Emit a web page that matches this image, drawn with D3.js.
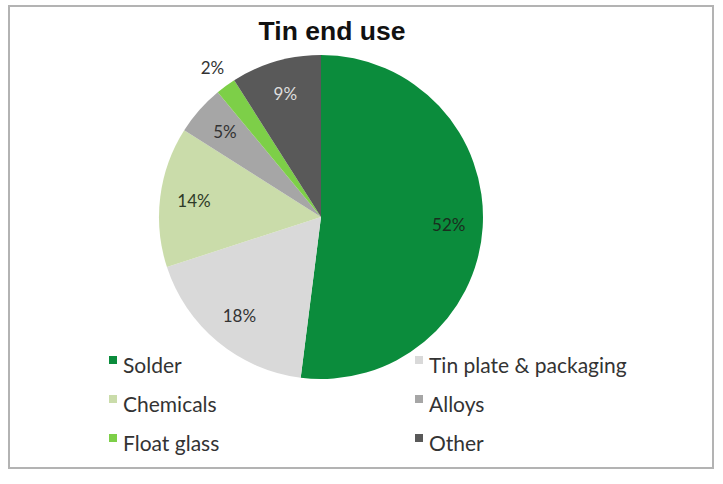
<!DOCTYPE html>
<html>
<head>
<meta charset="utf-8">
<script src="https://cdn.jsdelivr.net/npm/d3@7"></script>
<style>
  body { margin: 0; background: #fff; }
  svg { display: block; }
</style>
</head>
<body>
<div id="chart"></div>
<script>
const categories = ["Solder", "Tin plate & packaging", "Chemicals", "Alloys", "Float glass", "Other"]
const shares = [52, 18, 14, 5, 2, 9]
const sliceColors = ["#0b8c3c", "#d9d9d9", "#cadcaa", "#a6a6a6", "#7dcf48", "#595959"]
const labelColors = ["#1a2e1e", "#333", "#2e3a28", "#333", "#333", "#dedede"]

const WIDTH = 723
const HEIGHT = 484
const CENTER = {x: 321, y: 217}
const RADIUS = 162
const LEGEND = {cols: [109, 415], top: 373, rowStep: 39, box: 8, textGap: 14}

const svg = d3.select("#chart")
  .append("svg")
  .attr("width", WIDTH)
  .attr("height", HEIGHT)

svg.append("rect")
  .attr("width", WIDTH).attr("height", HEIGHT)
  .attr("fill", "#fff")

// outer frame
svg.append("rect")
  .attr("x", 9).attr("y", 6)
  .attr("width", 704).attr("height", 462)
  .attr("fill", "none")
  .attr("stroke", "#b3b3b3")
  .attr("stroke-width", 2)

svg.append("text")
  .text("Tin end use")
  .attr("x", 332)
  .attr("y", 40)
  .attr("text-anchor", "middle")
  .attr("font-family", "Liberation Sans, Arial, sans-serif")
  .attr("font-weight", "bold")
  .attr("font-size", "26.5px")
  .attr("fill", "#111")

const pieData = d3.pie().sort(null).value((d) => d)(shares)
const arc = d3.arc().innerRadius(0).outerRadius(RADIUS)
const labelArc = d3.arc().innerRadius(RADIUS * 0.79).outerRadius(RADIUS * 0.79)
const outerLabelArc = d3.arc().innerRadius(RADIUS * 1.14).outerRadius(RADIUS * 1.14)

const pieG = svg.append("g")
  .attr("transform", `translate(${CENTER.x},${CENTER.y})`)

pieG.selectAll("path.slice")
  .data(pieData).enter()
  .append("path")
  .classed("slice", true)
  .attr("d", arc)
  .attr("fill", (_, i) => sliceColors[i])

pieG.selectAll("text.pct")
  .data(pieData).enter()
  .append("text")
  .classed("pct", true)
  .text((d) => d.data + "%")
  .attr("transform", (d) => {
    // tiny slices get their label outside the pie
    const c = d.data < 3 ? outerLabelArc.centroid(d) : labelArc.centroid(d)
    return `translate(${c[0]},${c[1]})`
  })
  .attr("text-anchor", "middle")
  .attr("dy", "0.35em")
  .attr("font-family", "Lato, sans-serif")
  .attr("font-size", "17px")
  .attr("fill", (_, i) => labelColors[i])

// legend, two columns, filled row by row
const legend = svg.append("g")
  .attr("font-family", "Lato, sans-serif")
  .attr("font-size", "21px")
  .attr("fill", "#333")

const items = legend.selectAll("g.item")
  .data(categories).enter()
  .append("g")
  .classed("item", true)
  .attr("transform", (_, i) =>
    `translate(${LEGEND.cols[i % 2]},${LEGEND.top + Math.floor(i / 2) * LEGEND.rowStep})`)

items.append("rect")
  .attr("x", 0)
  .attr("y", -17)
  .attr("width", LEGEND.box)
  .attr("height", LEGEND.box)
  .attr("fill", (_, i) => sliceColors[i])

items.append("text")
  .text((d) => d)
  .attr("x", LEGEND.textGap)
  .attr("y", 0)
</script>
</body>
</html>
